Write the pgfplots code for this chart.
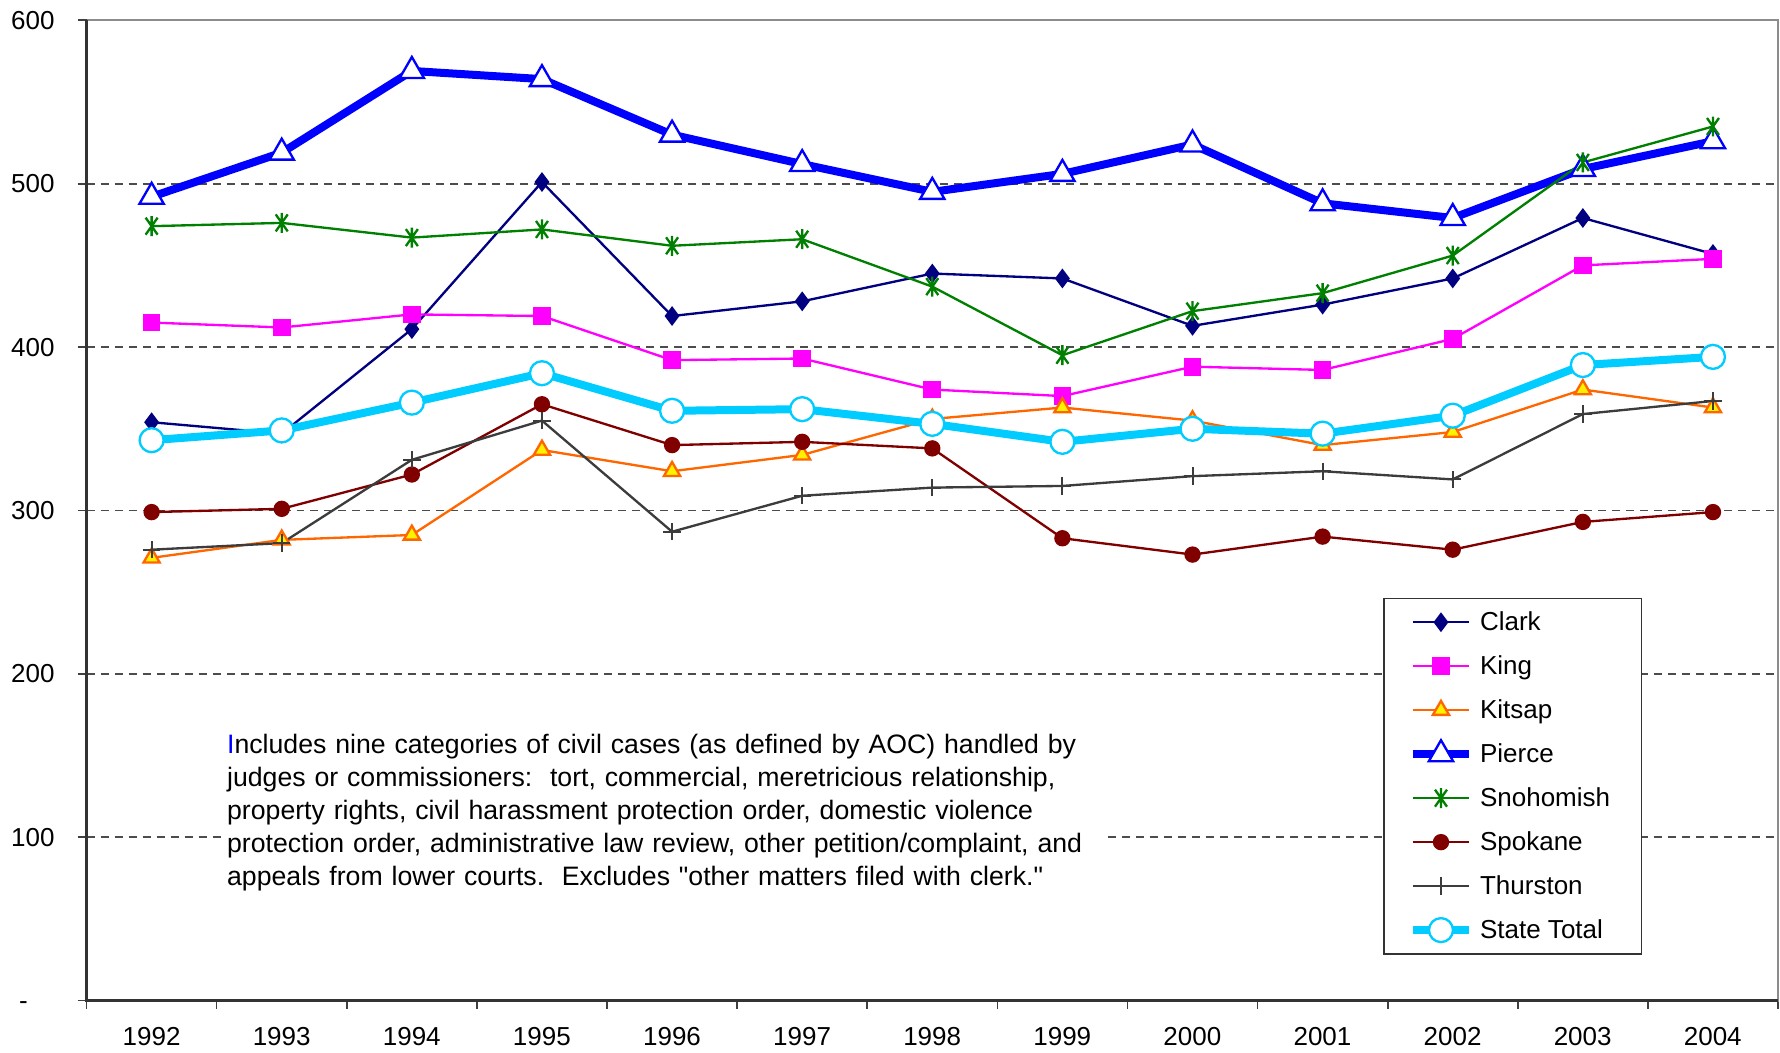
\documentclass[border=0pt]{standalone}
\usepackage{fontspec}
\setmainfont{Liberation Sans}[Ligatures=TeXOff]
\usepackage{pgfplots}
\usepackage{pgfplotstable}
\pgfplotsset{compat=1.18}

\definecolor{clark}{RGB}{0,0,128}
\definecolor{king}{RGB}{255,0,255}
\definecolor{kitsap}{RGB}{255,102,0}
\definecolor{pierce}{RGB}{0,0,255}
\definecolor{snoh}{RGB}{0,128,0}
\definecolor{spokane}{RGB}{128,0,0}
\definecolor{thurston}{RGB}{60,60,60}
\definecolor{statetot}{RGB}{0,204,255}

% Excel-style star: X plus vertical bar
\pgfdeclareplotmark{xstar}{%
  \pgfpathmoveto{\pgfpoint{0pt}{\pgfplotmarksize}}%
  \pgfpathlineto{\pgfpoint{0pt}{-\pgfplotmarksize}}%
  \pgfpathmoveto{\pgfpoint{-0.6\pgfplotmarksize}{0.85\pgfplotmarksize}}%
  \pgfpathlineto{\pgfpoint{0.6\pgfplotmarksize}{-0.85\pgfplotmarksize}}%
  \pgfpathmoveto{\pgfpoint{0.6\pgfplotmarksize}{0.85\pgfplotmarksize}}%
  \pgfpathlineto{\pgfpoint{-0.6\pgfplotmarksize}{-0.85\pgfplotmarksize}}%
  \pgfusepathqstroke}

% cases per judicial officer
\pgfplotstableread{
year Clark King Kitsap Pierce Snohomish Spokane Thurston State
1992 354 415 271 492 474 299 276 343
1993 347 412 282 519 476 301 280 349
1994 411 420 285 569 467 322 331 366
1995 501 419 337 564 472 365 355 384
1996 419 392 324 530 462 340 287 361
1997 428 393 334 512 466 342 309 362
1998 445 374 356 495 437 338 314 353
1999 442 370 363 506 395 283 315 342
2000 413 388 355 524 422 273 321 350
2001 426 386 340 488 433 284 324 347
2002 442 405 348 479 456 276 319 358
2003 479 450 374 509 513 293 359 389
2004 457 454 363 526 535 299 367 394
}\data

\begin{document}
\begin{tikzpicture}
\begin{axis}[
  scale only axis, width=507.6pt, height=294.2pt,
  xmin=1991.5, xmax=2004.5, ymin=0, ymax=600,
  font=\fontsize{7.8}{9}\selectfont,
  xtick={1992,...,2004},
  xticklabels={1992,1993,1994,1995,1996,1997,1998,1999,2000,2001,2002,2003,2004},
  minor xtick={1991.5,1992.5,...,2004.5},
  major x tick style={draw=none},
  minor tick length=2.5pt, major tick length=2.7pt,
  tick align=outside, xtick pos=bottom, ytick pos=left,
  tick style={black!75, line width=0.5pt},
  xticklabel style={inner ysep=0.5pt, yshift=-4.7pt},
  ytick={100,200,300,400,500},
  yticklabels={100,200,300,400,500},
  extra y ticks={0,600},
  extra y tick labels={{\rlap{\hspace{2.4pt}-}\phantom{600}},600},
  extra y tick style={grid=none},
  yticklabel style={xshift=-3.4pt},
  ymajorgrids,
  major grid style={black!70, line width=0.5pt, dash pattern=on 2.4pt off 1.8pt},
  axis line style={black!45, line width=0.6pt},
  legend cell align=left,
  legend style={at={(0.7665,0.411)}, anchor=north west, draw=black!80,
    line width=0.5pt, fill=white, font=\fontsize{7.8}{9}\selectfont,
    inner xsep=7.4pt, inner ysep=0.5pt, row sep=0pt,
    nodes={text height=0.7em, text depth=0.22em},
    /tikz/every even column/.append style={column sep=5pt}},
]
\addplot[clark, line width=0.7pt, mark=diamond*, mark size=2.4pt]
  table[x=year, y=Clark]{\data};
\addlegendentry{Clark}
\addplot[king, line width=0.7pt, mark=square*, mark size=2.3pt]
  table[x=year, y=King]{\data};
\addlegendentry{King}
\addplot[kitsap, line width=0.7pt, mark=triangle*, mark size=2.8pt,
  mark options={fill=yellow, line width=0.7pt}]
  table[x=year, y=Kitsap]{\data};
\addlegendentry{Kitsap}
\addplot[pierce, line width=2.4pt, mark=triangle*, mark size=4.2pt,
  mark options={fill=white, line width=0.7pt}]
  table[x=year, y=Pierce]{\data};
\addlegendentry{Pierce}
\addplot[snoh, line width=0.7pt, mark=xstar, mark size=3pt,
  mark options={line width=0.7pt}]
  table[x=year, y=Snohomish]{\data};
\addlegendentry{Snohomish}
\addplot[spokane, line width=0.7pt, mark=*, mark size=2.1pt]
  table[x=year, y=Spokane]{\data};
\addlegendentry{Spokane}
\addplot[thurston, line width=0.7pt, mark=+, mark size=2.6pt,
  mark options={line width=0.6pt}]
  table[x=year, y=Thurston]{\data};
\addlegendentry{Thurston}
\addplot[statetot, line width=2.4pt, mark=*, mark size=3.6pt,
  mark options={fill=white, line width=0.7pt}]
  table[x=year, y=State]{\data};
\addlegendentry{State Total}

\node[fill=white, align=left, text width=262.4pt, inner xsep=1.7pt, inner ysep=2pt,
  font=\fontsize{8}{9.9}\selectfont]
  at (rel axis cs:0.3416,0.1917)
  {{\color{blue}I}ncludes nine categories of civil cases (as defined by AOC) handled by\\
   judges or commissioners:\ \ tort, commercial, meretricious relationship,\\
   property rights, civil harassment protection order, domestic violence\\
   protection order, administrative law review, other petition/complaint, and\\
   appeals from lower courts.\ \ Excludes "other matters filed with clerk."};
\end{axis}
\draw[black!80, line width=0.7pt] (current axis.north west) -- (current axis.south west) -- (current axis.south east);
\path (current axis.south west) ++(-25.8pt,-15.6pt);
\path (current axis.north east) ++(0.6pt,5.8pt);
\end{tikzpicture}
\end{document}
